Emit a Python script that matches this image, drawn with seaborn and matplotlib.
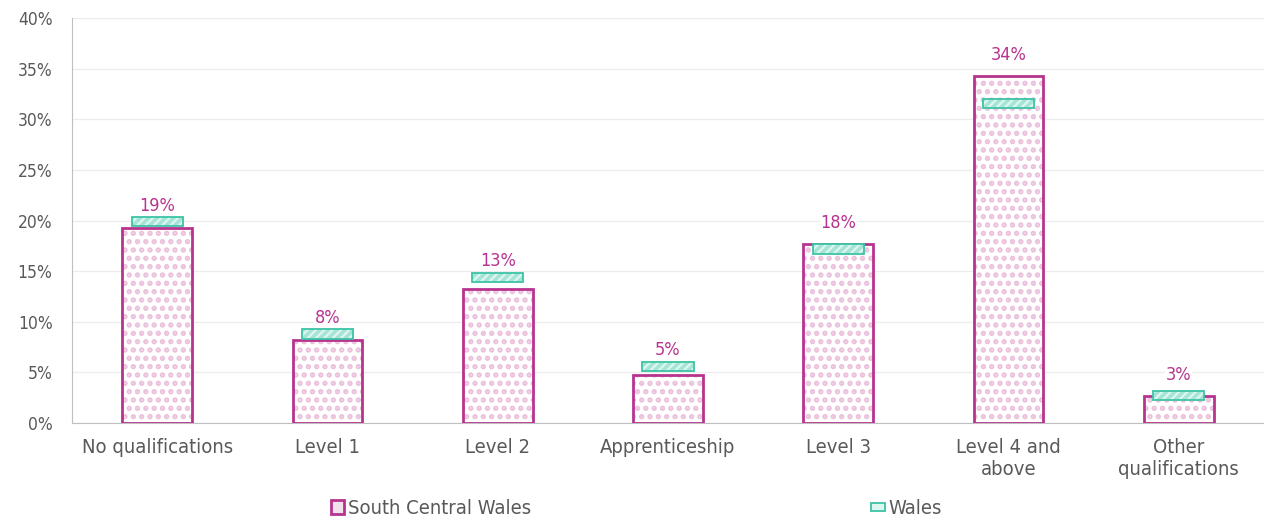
import pandas as pd
import matplotlib.pyplot as plt
import seaborn as sns
from matplotlib.patches import Patch
from matplotlib.ticker import PercentFormatter

sns.set_style('white')
plt.rcParams['font.family'] = ['DejaVu Sans']
plt.rcParams['font.stretch'] = 'condensed'
plt.rcParams['hatch.linewidth'] = 2.6

categories = ['No qualifications', 'Level 1', 'Level 2', 'Apprenticeship',
              'Level 3', 'Level 4 and\nabove', 'Other\nqualifications']
south_central = [19.3, 8.2, 13.2, 4.7, 17.7, 34.3, 2.7]
wales = [19.9, 8.8, 14.4, 5.6, 17.2, 31.6, 2.7]
labels = ['19%', '8%', '13%', '5%', '18%', '34%', '3%']

magenta = '#B8338F'
pink_dot = '#EBC0DC'
teal = '#3CC4A5'
teal_fill = '#DDF6F0'
teal_hatch = '#A5E4D6'
grey_txt = '#595959'

df = pd.DataFrame({'category': categories, 'scw': south_central, 'wales': wales})

fig = plt.figure(figsize=(12.64, 5.20), dpi=100)
ax = fig.add_axes([0.057, 0.1865, 0.943, 0.7785])

# dotted fill first, then outline
sns.barplot(data=df, x='category', y='scw', ax=ax, color='white', width=0.41,
            edgecolor=pink_dot, linewidth=0, hatch='..', zorder=2)
sns.barplot(data=df, x='category', y='scw', ax=ax, fill=False, width=0.41,
            edgecolor=magenta, linewidth=2, zorder=3)

# Wales markers
x = range(len(categories))
ax.bar(x, [0.9] * len(wales), bottom=[w - 0.45 for w in wales], width=0.3,
       color=teal_fill, edgecolor=teal_hatch, linewidth=0, hatch='////', zorder=4)
ax.bar(x, [0.9] * len(wales), bottom=[w - 0.45 for w in wales], width=0.3,
       fill=False, edgecolor=teal, linewidth=1.3, zorder=5)

for i, (s, w, lab) in enumerate(zip(south_central, wales, labels)):
    y = max(s + 1.2, w + 0.7)
    ax.text(i, y, lab, ha='center', va='bottom', color=magenta, fontsize=13,
            zorder=6, bbox=dict(facecolor='white', edgecolor='none', pad=0.5))

ax.set_ylim(0, 40)
ax.set_xlim(-0.5, len(categories) - 0.5)
ax.set_yticks(range(0, 41, 5))
ax.yaxis.set_major_formatter(PercentFormatter(decimals=0))
ax.grid(axis='y', color='#EDEDED', linewidth=0.9, zorder=0)
ax.set_axisbelow(True)
ax.set_xlabel('')
ax.set_ylabel('')
ax.tick_params(axis='both', length=0, labelcolor=grey_txt)
ax.tick_params(axis='x', pad=11, labelsize=14.5)
ax.tick_params(axis='y', pad=14, labelsize=12.5)
for sp in ['top', 'right']:
    ax.spines[sp].set_visible(False)
ax.spines['left'].set_color('#BFBFBF')
ax.spines['bottom'].set_color('#BFBFBF')

h_scw = Patch(facecolor='#F3E1EC', edgecolor=magenta, linewidth=2, label='South Central Wales')
h_wal = Patch(facecolor=teal_fill, edgecolor=teal, linewidth=1.3, label='Wales')
leg1 = fig.legend(handles=[h_scw], loc='center left', bbox_to_anchor=(0.262, 0.022),
                  frameon=False, fontsize=14.5, borderpad=0, borderaxespad=0,
                  handlelength=0.65, handleheight=0.65, handletextpad=0.2)
leg2 = fig.legend(handles=[h_wal], loc='center left', bbox_to_anchor=(0.689, 0.022),
                  frameon=False, fontsize=14.5, borderpad=0, borderaxespad=0,
                  handlelength=0.7, handleheight=0.2, handletextpad=0.15)
for leg in (leg1, leg2):
    for t in leg.get_texts():
        t.set_color(grey_txt)

fig.savefig('out.png', dpi=100)
